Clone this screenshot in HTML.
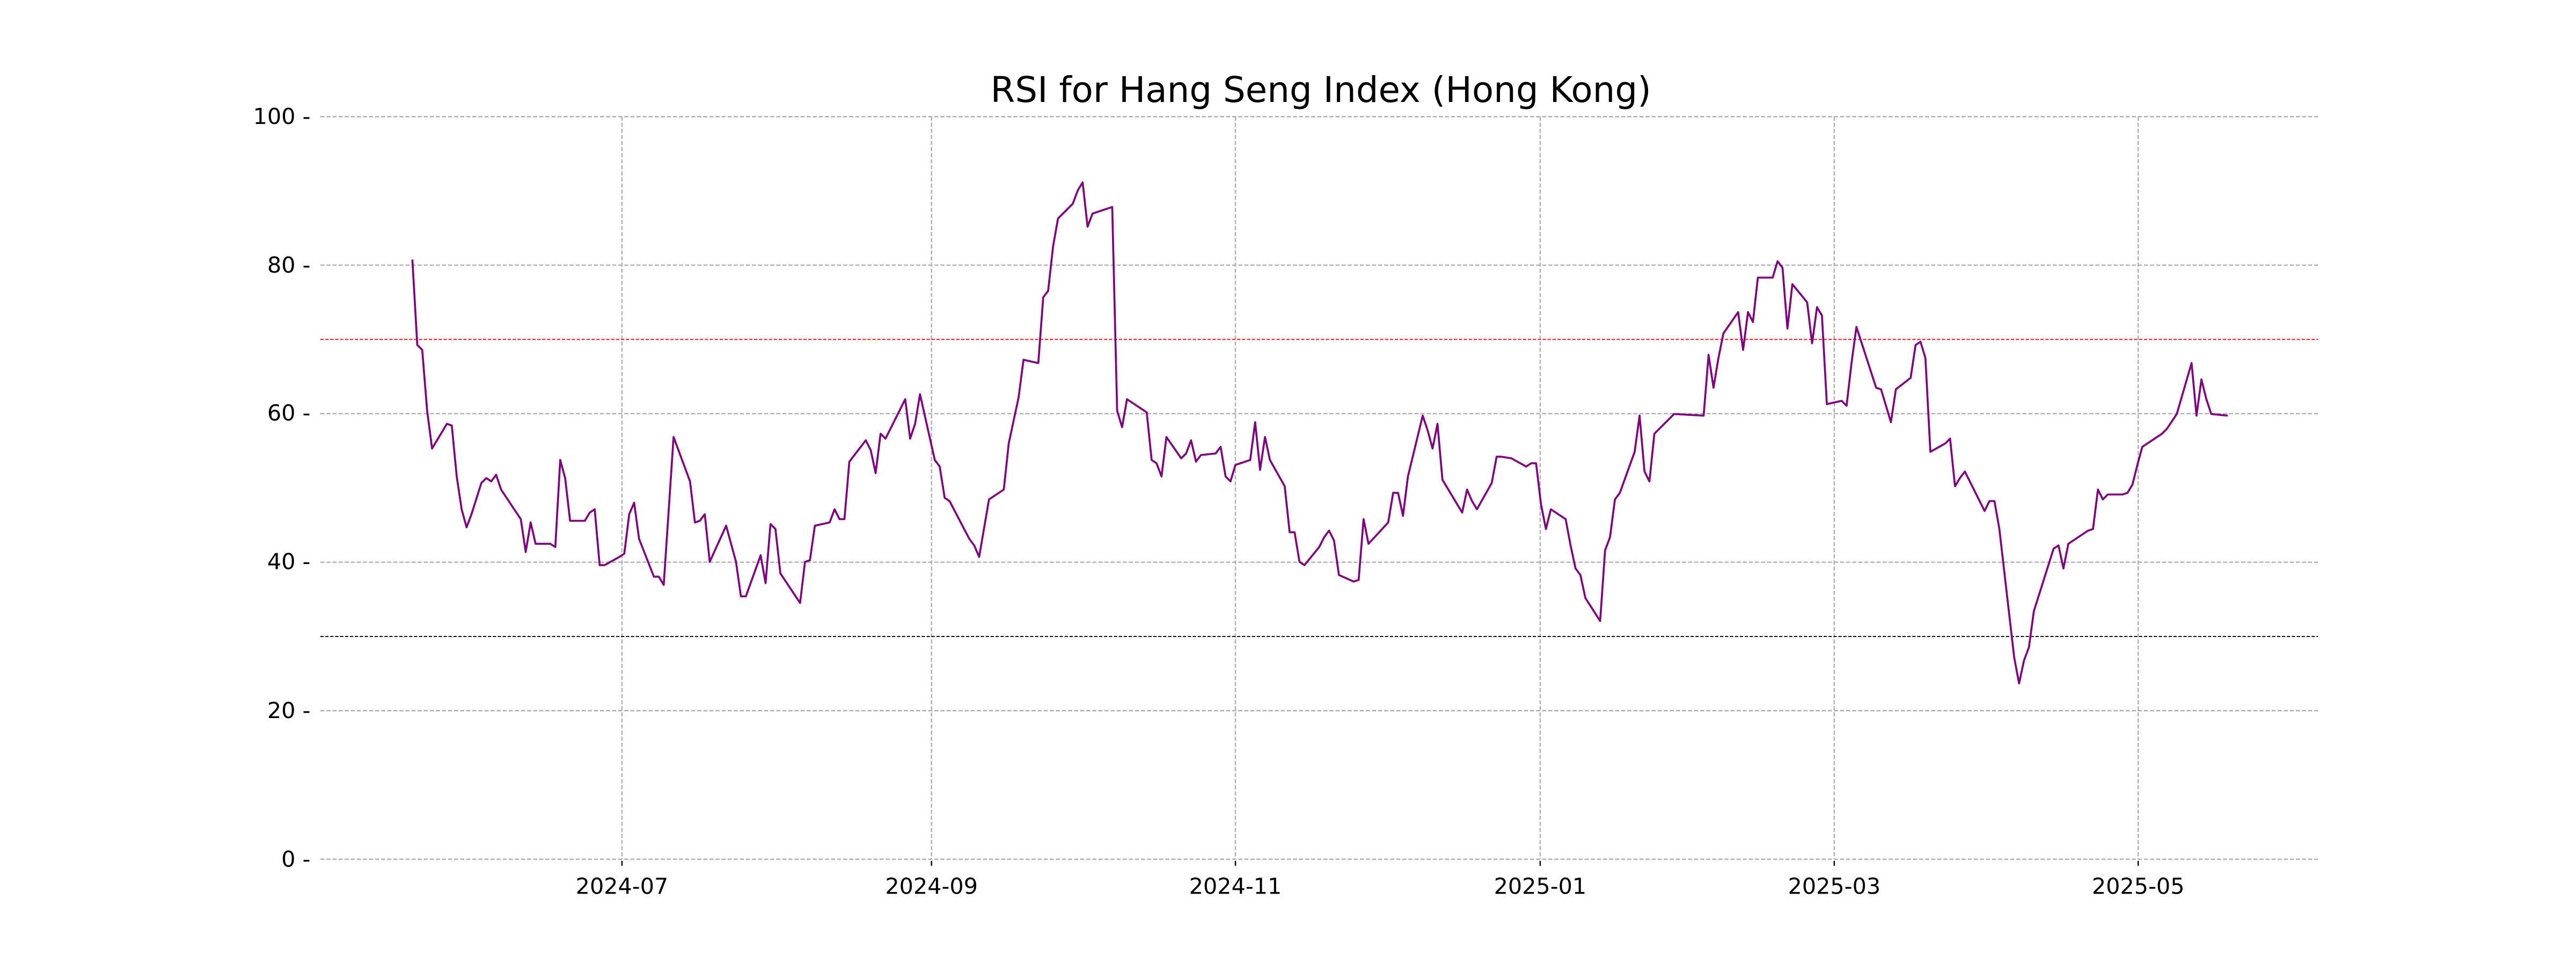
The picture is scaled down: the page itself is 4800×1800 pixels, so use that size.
<!DOCTYPE html>
<html><head><meta charset="utf-8"><style>
html,body{margin:0;padding:0;background:#fff;}
svg{display:block;}
text{font-family:"DejaVu Sans","Liberation Sans",sans-serif;fill:#000;}
</style></head><body>
<svg width="4800" height="1800" viewBox="0 0 1568 588" xmlns="http://www.w3.org/2000/svg">
<rect width="1568" height="588" fill="#fff"/>
<g stroke="#b0b0b0" stroke-width="0.8" stroke-dasharray="2.5,1.2" fill="none">
<line x1="195" x2="1411" y1="71" y2="71"/>
<line x1="195" x2="1411" y1="161.4" y2="161.4"/>
<line x1="195" x2="1411" y1="251.8" y2="251.8"/>
<line x1="195" x2="1411" y1="342.2" y2="342.2"/>
<line x1="195" x2="1411" y1="432.6" y2="432.6"/>
<line x1="195" x2="1411" y1="523" y2="523"/>
<line x1="378.6" x2="378.6" y1="71" y2="523"/>
<line x1="567" x2="567" y1="71" y2="523"/>
<line x1="752" x2="752" y1="71" y2="523"/>
<line x1="937.5" x2="937.5" y1="71" y2="523"/>
<line x1="1116.5" x2="1116.5" y1="71" y2="523"/>
<line x1="1301.5" x2="1301.5" y1="71" y2="523"/>
</g>
<line x1="195" x2="1411" y1="206.6" y2="206.6" stroke="#ff0000" stroke-width="0.6" stroke-dasharray="2,1"/>
<line x1="195" x2="1411" y1="387.4" y2="387.4" stroke="#000" stroke-width="0.6" stroke-dasharray="2,1"/>
<polyline fill="none" stroke="#800080" stroke-width="1.2" stroke-linejoin="round" points="251,158 254,210 257,213 260,250 263,273 266,268 272,258 275,259 278,290 281,310 284,321 287,313 293,294 296,291 299,293 302,289 305,298 317,316 320,336 323,318 326,331 335,331 338,333 341,280 344,291 347,317 356,317 359,312 362,310 365,344 368,344 377,339 380,337 383,313 386,306 389,328 398,351 401,351 404,356 410,266 420,293 423,318 426,317 429,313 432,342 442,320 448,342 451,363 454,363 463,338 466,355 469,319 472,322 475,349 487,367 490,342 493,341 496,320 505,318 508,310 511,316 514,316 517,281 527,268 530,274 533,288 536,264 539,267 551,243 554,267 557,258 560,240 569,280 572,284 575,303 578,305 590,328 593,332 596,339 602,304 611,298 614,270 620,242 623,219 632,221 635,181 638,177 641,150 644,133 653,124 656,116 659,111 662,138 665,130 674,127 677,126 680,250 683,260 686,243 695,249 698,251 701,280 704,282 707,290 710,266 719,279 722,276 725,268 728,281 731,277 740,276 743,272 746,290 749,293 752,283 755,282 761,280 764,257 767,286 770,266 773,280 782,296 785,324 788,324 791,342 794,344 803,333 806,327 809,323 812,329 815,350 824,354 827,353 830,316 833,331 845,318 848,300 851,300 854,314 857,290 866,253 869,262 872,273 875,258 878,292 890,312 893,298 896,305 899,310 908,294 911,278 914,278 920,279 929,284 932,282 935,282 938,307 941,322 944,310 953,316 956,332 959,346 962,350 965,364 974,378 977,335 980,327 983,304 986,300 995,275 998,253 1001,287 1004,293 1007,264 1019,252 1037,253 1040,216 1043,236 1046,218 1049,203 1058,190 1061,213 1064,190 1067,196 1070,169 1079,169 1082,159 1085,163 1088,200 1091,173 1100,184 1103,209 1106,187 1109,192 1112,246 1121,244 1124,247 1127,221 1130,199 1142,236 1145,237 1148,247 1151,257 1154,237 1163,230 1166,210 1169,208 1172,218 1175,275 1184,270 1187,267 1190,296 1193,291 1196,287 1205,305 1208,311 1211,305 1214,305 1217,322 1226,400 1229,416 1232,402 1235,394 1238,372 1250,334 1253,332 1256,346 1259,331 1271,323 1274,322 1277,298 1280,304 1283,301 1292,301 1295,300 1298,295 1301,283 1304,272 1316,264 1319,261 1325,252 1334,221 1337,253 1340,231 1343,243 1346,252 1356,253"/>
<g font-size="13.5" text-anchor="end">
<text x="189" y="527.5">0 -</text>
<text x="189" y="437">20 -</text>
<text x="189" y="346.5">40 -</text>
<text x="189" y="256">60 -</text>
<text x="189" y="166">80 -</text>
<text x="189" y="75.5">100 -</text>
</g>
<g stroke="#000" stroke-width="0.8">
<line x1="378.6" x2="378.6" y1="524" y2="527"/>
<line x1="567" x2="567" y1="524" y2="527"/>
<line x1="752" x2="752" y1="524" y2="527"/>
<line x1="937.5" x2="937.5" y1="524" y2="527"/>
<line x1="1116.5" x2="1116.5" y1="524" y2="527"/>
<line x1="1301.5" x2="1301.5" y1="524" y2="527"/>
</g>
<g font-size="13.5" text-anchor="middle">
<text x="378.6" y="544">2024-07</text>
<text x="567" y="544">2024-09</text>
<text x="752" y="544">2024-11</text>
<text x="937.5" y="544">2025-01</text>
<text x="1116.5" y="544">2025-03</text>
<text x="1301.5" y="544">2025-05</text>
</g>
<text x="804" y="62" font-size="21.5" text-anchor="middle">RSI for Hang Seng Index (Hong Kong)</text>
</svg>
</body></html>
